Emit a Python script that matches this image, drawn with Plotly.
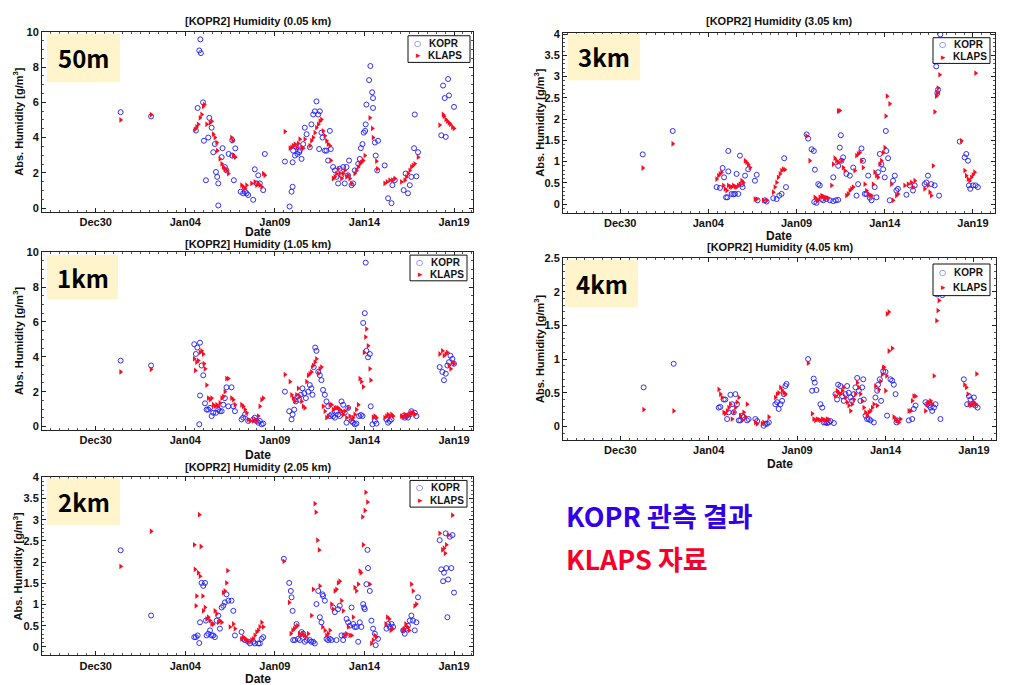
import pandas as pd
import plotly.graph_objects as go

# time = days after 2017-12-30 00:00 ; value = absolute humidity [g/m^3]
BASE = pd.Timestamp("2017-12-30")

kopr_50m = [(1.39,5.44),(3.09,5.2),(5.59,4.4),(5.69,5.68),(5.78,8.94),(5.84,9.57),(5.87,8.79),(5.99,6.0),(6.04,3.82),(6.15,1.58),(6.28,4.0),(6.34,5.12),(6.47,4.56),(6.56,3.17),(6.65,3.63),(6.71,2.05),(6.78,1.77),(6.84,1.4),(6.84,0.15),(7.03,2.89),(7.08,3.4),(7.21,2.33),(7.30,2.14),(7.42,3.07),(7.62,2.98),(7.71,1.58),(7.79,3.39),(7.62,3.85),(8.09,0.93),(8.23,0.84),(8.33,0.93),(8.42,0.84),(8.51,0.74),(8.79,0.47),(8.88,2.2),(8.98,1.4),(9.07,1.86),(9.16,1.4),(9.35,1.02),(9.44,3.07),(10.56,2.64),(10.82,0.09),(10.93,0.93),(10.99,1.21),(10.99,2.6),(11.02,3.26),(11.12,2.98),(11.21,3.45),(11.26,3.07),(11.36,3.17),(11.39,3.26),(11.49,2.79),(11.58,3.63),(11.67,4.56),(11.77,4.19),(11.95,3.45),(12.04,4.75),(12.14,5.31),(12.23,5.49),(12.32,6.05),(12.42,5.31),(12.51,5.49),(12.47,3.35),(12.60,4.28),(12.66,4.0),(12.79,3.26),(12.88,3.26),(12.97,2.7),(13.07,4.38),(13.12,3.35),(13.25,2.33),(13.35,2.14),(13.44,1.77),(13.53,1.4),(13.62,2.23),(13.72,1.86),(13.81,2.33),(13.90,1.4),(14.00,2.33),(14.09,1.86),(14.14,2.7),(14.28,1.3),(14.37,1.4),(14.46,2.14),(14.65,2.51),(14.74,2.79),(14.80,3.4),(14.89,3.63),(14.96,4.28),(15.04,4.38),(15.07,4.75),(15.11,5.87),(15.26,7.26),(15.33,8.06),(15.43,6.57),(15.48,6.24),(15.48,5.68),(15.58,3.72),(15.63,2.98),(15.71,2.14),(15.76,3.82),(16.13,2.42),(16.32,0.56),(16.51,0.28),(16.56,1.3),(16.69,1.58),(17.19,1.02),(17.30,1.96),(17.43,0.84),(17.53,1.3),(17.62,1.77),(17.77,3.4),(17.81,5.31),(17.90,1.8),(17.99,3.17),(19.29,4.13),(19.39,6.95),(19.48,6.24),(19.54,4.04),(19.67,7.32),(19.72,6.39),(20.0,5.74)]
klaps_50m = [(1.39,5.0),(3.09,5.3),(5.54,4.47),(5.63,4.6),(5.72,4.75),(5.82,5.12),(5.91,5.31),(6.0,5.77),(6.06,5.87),(6.19,4.75),(6.38,4.84),(6.47,4.93),(6.56,4.19),(6.65,4.0),(6.75,3.72),(6.78,3.26),(6.93,2.79),(7.03,2.51),(7.12,2.33),(7.21,2.23),(7.30,2.14),(7.40,1.96),(7.58,4.0),(7.64,3.82),(7.68,2.98),(7.79,2.89),(8.14,1.3),(8.23,1.21),(8.33,1.12),(8.42,1.3),(8.70,1.4),(8.88,1.49),(8.98,1.3),(9.07,1.4),(9.16,1.3),(9.26,1.21),(9.35,1.96),(9.44,1.86),(10.56,4.34),(10.84,3.4),(10.93,3.45),(11.02,3.54),(11.12,3.63),(11.21,3.45),(11.30,3.67),(11.39,3.91),(11.49,3.45),(11.58,3.4),(11.67,3.91),(11.95,3.54),(12.04,3.82),(12.14,4.0),(12.23,4.28),(12.32,4.56),(12.42,4.75),(12.51,4.93),(12.60,5.03),(12.69,4.38),(12.79,4.1),(12.88,3.82),(12.97,3.63),(13.07,3.54),(13.12,2.7),(13.25,1.68),(13.35,1.77),(13.44,1.96),(13.53,2.23),(13.62,1.96),(13.72,1.68),(13.81,1.96),(13.90,2.14),(14.00,1.77),(14.09,1.86),(14.18,1.68),(14.28,1.4),(14.46,1.96),(14.55,2.14),(14.65,2.33),(14.74,2.51),(14.83,2.6),(14.93,2.7),(15.02,2.98),(15.30,5.12),(15.44,4.52),(15.48,4.0),(15.67,2.66),(15.72,2.23),(16.13,1.4),(16.26,1.49),(16.41,1.58),(16.56,1.58),(16.69,1.68),(17.06,1.49),(17.25,1.58),(17.34,1.77),(17.43,1.96),(17.53,2.14),(17.62,2.33),(17.71,2.42),(17.81,2.51),(17.99,2.89),(19.20,4.71),(19.39,5.31),(19.44,5.21),(19.54,5.03),(19.63,4.93),(19.72,4.84),(19.80,4.75),(19.91,4.6),(20.0,4.52)]

kopr_1km = [(1.39,3.78),(3.09,3.5),(5.50,4.72),(5.59,4.16),(5.67,4.53),(5.78,0.13),(5.82,4.81),(5.82,1.78),(5.91,3.5),(6.0,2.94),(6.10,1.33),(6.19,0.97),(6.28,0.97),(6.38,1.07),(6.47,0.6),(6.56,0.79),(6.71,0.79),(6.84,0.97),(6.93,0.88),(7.03,0.88),(7.12,1.25),(7.21,1.63),(7.30,2.25),(7.40,1.16),(7.58,2.25),(7.68,1.16),(7.77,0.88),(8.14,0.41),(8.23,0.51),(8.33,0.69),(8.51,0.32),(8.79,0.41),(8.88,0.51),(8.98,0.32),(9.07,0.22),(9.16,0.32),(9.26,0.13),(9.35,0.17),(10.56,2.0),(10.80,0.88),(10.93,0.41),(10.99,0.69),(11.08,0.97),(11.17,1.44),(11.26,1.72),(11.36,1.54),(11.45,1.82),(11.54,2.19),(11.64,1.91),(11.73,1.63),(11.86,2.0),(11.95,2.38),(12.04,2.19),(12.10,1.82),(12.17,3.41),(12.25,4.53),(12.32,4.34),(12.42,3.13),(12.51,2.94),(12.60,2.66),(12.69,2.1),(12.79,1.82),(12.88,1.44),(12.97,1.16),(13.07,0.6),(13.16,0.69),(13.25,0.6),(13.35,0.51),(13.44,0.88),(13.53,0.69),(13.62,0.6),(13.72,1.44),(13.81,1.25),(13.90,0.79),(14.00,0.22),(14.09,1.07),(14.28,0.32),(14.37,0.22),(14.46,0.13),(14.55,0.17),(14.70,0.6),(14.80,0.66),(14.89,0.6),(14.93,5.94),(15.02,6.5),(15.07,9.4),(15.11,4.34),(15.20,3.97),(15.30,4.16),(15.35,1.16),(15.45,0.13),(15.58,0.32),(15.67,0.17),(16.23,0.41),(16.32,0.22),(16.41,0.32),(16.51,0.41),(17.16,0.6),(17.25,0.51),(17.34,0.6),(17.43,0.51),(17.53,0.69),(17.62,0.88),(17.81,0.79),(17.90,0.6),(19.20,3.41),(19.35,3.13),(19.44,2.66),(19.54,3.03),(19.63,3.5),(19.72,3.69),(19.80,4.06),(19.91,3.88),(20.0,3.6)]
klaps_1km = [(1.39,3.13),(3.09,3.28),(5.50,3.88),(5.56,3.22),(5.63,3.69),(5.72,3.78),(5.82,4.25),(5.91,4.34),(6.0,4.16),(6.04,3.6),(6.10,3.31),(6.19,2.38),(6.28,1.63),(6.38,1.54),(6.47,1.63),(6.56,1.25),(6.65,1.16),(6.75,1.25),(6.84,1.16),(6.93,1.35),(7.03,1.63),(7.12,1.72),(7.21,2.0),(7.30,2.75),(7.40,2.75),(7.58,1.63),(7.68,1.54),(7.77,1.25),(8.14,1.25),(8.23,1.16),(8.33,0.97),(8.42,0.79),(8.51,0.41),(8.61,0.32),(8.79,0.32),(8.88,0.41),(8.98,0.32),(9.07,0.6),(9.16,1.16),(9.26,1.54),(9.35,1.63),(10.56,2.98),(10.84,2.57),(10.93,1.82),(11.02,1.63),(11.12,1.44),(11.21,1.82),(11.30,2.19),(11.39,1.72),(11.49,1.44),(11.58,1.16),(11.67,1.07),(11.77,2.57),(11.86,2.94),(11.95,3.03),(12.04,3.13),(12.14,3.5),(12.23,3.69),(12.32,3.88),(12.42,3.03),(12.51,3.31),(12.60,3.41),(12.69,1.16),(12.79,0.88),(12.88,0.51),(12.97,0.6),(13.07,1.25),(13.16,1.25),(13.25,0.97),(13.35,1.07),(13.44,1.07),(13.53,1.07),(13.62,0.97),(13.72,0.88),(13.81,0.69),(13.90,0.88),(14.00,0.51),(14.09,1.07),(14.18,0.6),(14.28,0.41),(14.37,0.51),(14.46,0.69),(14.55,0.97),(14.65,1.25),(14.74,2.75),(14.83,2.57),(14.93,2.28),(14.98,4.25),(15.06,5.13),(15.11,5.6),(15.20,4.63),(15.30,3.31),(15.35,2.66),(15.48,0.54),(15.58,0.6),(15.67,0.51),(16.13,0.51),(16.23,0.6),(16.32,0.69),(16.41,0.6),(16.51,0.69),(16.60,0.6),(17.06,0.6),(17.16,0.54),(17.25,0.69),(17.34,0.6),(17.43,0.66),(17.53,0.69),(17.62,0.79),(17.71,0.79),(17.81,0.69),(19.20,4.16),(19.35,4.34),(19.44,4.06),(19.54,4.16),(19.63,4.25),(19.72,3.5),(19.81,3.31),(19.91,3.69),(20.0,3.6)]

kopr_2km = [(1.39,2.28),(3.09,0.74),(5.50,0.23),(5.59,0.23),(5.69,0.27),(5.78,0.09),(5.82,0.58),(5.91,1.51),(6.0,1.44),(6.10,1.51),(6.15,0.62),(6.19,0.27),(6.28,0.31),(6.38,0.39),(6.47,0.27),(6.56,0.27),(6.65,0.23),(6.75,0.62),(6.84,0.74),(6.93,0.43),(7.03,0.93),(7.12,0.97),(7.21,1.05),(7.30,1.24),(7.40,1.09),(7.58,1.09),(7.68,0.85),(7.77,0.27),(8.14,0.35),(8.23,0.19),(8.33,0.16),(8.51,0.12),(8.61,0.08),(8.79,0.12),(8.88,0.08),(9.07,0.08),(9.16,0.08),(9.26,0.19),(9.35,0.23),(10.50,2.08),(10.80,1.51),(10.89,1.32),(10.93,1.17),(10.99,0.85),(11.02,0.16),(11.12,0.16),(11.21,0.54),(11.30,0.19),(11.39,0.16),(11.49,0.35),(11.58,0.31),(11.67,0.12),(11.77,0.16),(11.95,0.16),(12.04,0.12),(12.14,0.12),(12.23,0.08),(12.32,1.01),(12.42,1.32),(12.51,0.7),(12.60,0.58),(12.66,1.24),(12.69,1.2),(12.79,1.09),(12.88,0.19),(12.97,0.16),(13.07,0.19),(13.16,0.16),(13.25,0.93),(13.35,0.82),(13.44,0.16),(13.53,0.89),(13.62,0.97),(13.72,0.27),(13.81,0.16),(13.90,0.27),(14.00,0.66),(14.09,0.58),(14.18,0.5),(14.28,0.93),(14.37,0.54),(14.46,0.47),(14.55,0.47),(14.65,0.12),(14.74,0.58),(14.83,0.47),(14.93,1.01),(14.98,0.93),(15.02,0.89),(15.11,1.48),(15.17,2.29),(15.20,1.86),(15.30,1.32),(15.39,0.62),(15.48,0.43),(15.58,0.31),(15.63,0.04),(15.76,0.19),(16.23,0.43),(16.32,0.54),(16.41,0.47),(16.51,0.54),(16.60,0.47),(17.16,0.39),(17.25,0.31),(17.34,0.43),(17.43,0.5),(17.53,0.62),(17.62,0.74),(17.71,0.62),(17.81,0.39),(17.90,0.58),(17.99,1.17),(19.20,2.52),(19.29,1.83),(19.39,1.55),(19.44,1.75),(19.54,2.68),(19.57,1.86),(19.63,0.7),(19.67,1.59),(19.76,2.6),(19.85,1.86),(19.91,2.64),(20.0,1.28)]
klaps_2km = [(1.39,1.9),(3.09,2.73),(5.50,2.41),(5.54,1.83),(5.59,0.97),(5.63,1.2),(5.72,1.75),(5.78,3.12),(5.82,1.67),(5.87,2.37),(5.97,1.2),(6.0,0.85),(6.10,0.93),(6.19,0.66),(6.28,0.7),(6.38,0.62),(6.47,0.54),(6.56,0.54),(6.65,0.85),(6.75,0.78),(6.84,0.58),(6.93,0.62),(7.03,0.58),(7.12,1.28),(7.21,1.32),(7.30,1.51),(7.36,1.8),(7.49,0.47),(7.68,0.54),(7.77,0.43),(8.14,0.19),(8.23,0.23),(8.33,0.19),(8.42,0.16),(8.51,0.12),(8.70,0.16),(8.79,0.19),(8.88,0.27),(8.98,0.35),(9.07,0.39),(9.16,0.47),(9.26,0.58),(9.35,0.47),(10.50,2.02),(10.80,1.05),(10.89,0.31),(10.99,0.39),(11.08,0.43),(11.17,0.47),(11.26,0.5),(11.36,0.31),(11.45,0.27),(11.54,0.31),(11.64,0.27),(11.73,0.23),(11.86,0.31),(12.04,0.74),(12.14,1.36),(12.23,3.38),(12.29,3.18),(12.38,2.52),(12.47,2.29),(12.51,1.44),(12.66,0.47),(12.79,0.39),(12.88,0.27),(12.97,0.31),(13.07,0.39),(13.16,1.01),(13.25,0.89),(13.35,1.32),(13.44,1.36),(13.53,1.51),(13.62,1.55),(13.72,1.09),(13.81,0.85),(13.90,0.27),(14.00,0.31),(14.09,0.47),(14.18,0.27),(14.28,0.27),(14.37,0.7),(14.46,1.4),(14.55,1.32),(14.65,1.48),(14.74,1.79),(14.80,1.75),(14.89,3.07),(14.93,2.41),(15.02,3.22),(15.07,3.65),(15.17,3.42),(15.30,1.48),(15.39,0.08),(15.48,0.16),(15.58,0.27),(15.67,0.23),(16.19,0.54),(16.28,0.7),(16.38,0.66),(16.47,0.39),(16.56,0.43),(17.12,0.39),(17.21,0.43),(17.30,0.54),(17.40,0.47),(17.49,0.39),(17.62,1.48),(17.71,1.32),(17.81,0.97),(17.90,1.01),(19.20,2.68),(19.35,2.29),(19.44,2.33),(19.50,2.21),(19.57,2.41),(19.67,2.64),(19.91,3.11)]

kopr_3km = [(1.28,1.17),(2.98,1.72),(5.47,0.4),(5.66,0.38),(5.81,0.85),(5.89,0.63),(6.0,0.16),(6.08,0.16),(6.13,0.77),(6.13,1.25),(6.32,0.24),(6.42,0.23),(6.51,0.24),(6.6,0.71),(6.7,0.24),(6.79,1.14),(6.89,0.47),(6.94,0.4),(7.08,0.67),(7.26,0.82),(7.64,0.55),(7.74,0.69),(7.79,0.09),(8.21,0.09),(8.3,0.06),(8.68,0.14),(8.87,0.12),(9.02,0.2),(9.15,0.24),(9.3,1.08),(9.4,0.4),(10.57,1.64),(10.66,1.54),(10.85,1.29),(10.98,1.25),(11.04,0.81),(11.0,0.05),(11.13,0.03),(11.23,0.47),(11.32,0.44),(11.42,0.12),(11.51,0.09),(11.7,0.12),(11.89,0.09),(12.08,0.07),(12.23,0.09),(12.36,0.1),(12.08,0.63),(12.36,0.9),(12.45,1.33),(12.51,1.62),(12.55,1.02),(12.64,1.1),(12.83,0.71),(13.02,0.67),(13.21,0.86),(13.4,0.2),(13.49,0.47),(13.68,1.31),(13.77,1.02),(13.87,0.24),(13.96,0.24),(14.06,0.67),(14.15,0.15),(14.25,0.09),(14.43,0.4),(14.53,0.16),(14.62,0.75),(14.72,1.18),(14.81,0.94),(14.91,0.82),(15.0,0.63),(15.06,1.72),(15.09,1.25),(15.19,1.08),(15.28,0.09),(15.47,0.55),(15.57,0.67),(15.66,0.32),(15.75,0.36),(16.23,0.22),(16.42,0.44),(16.6,0.32),(16.7,0.44),(17.26,0.47),(17.36,0.51),(17.45,0.67),(17.64,0.47),(17.83,0.44),(17.92,3.24),(17.98,2.61),(18.02,2.69),(18.08,0.2),(18.15,3.99),(19.25,1.47),(19.53,1.1),(19.62,1.18),(19.72,1.02),(19.77,0.44),(19.85,0.36),(20.0,0.44),(20.15,0.44),(20.28,0.4)]
klaps_3km = [(1.28,0.85),(2.98,1.42),(5.47,0.59),(5.57,0.67),(5.66,0.71),(5.75,0.75),(5.85,0.44),(5.94,0.36),(6.04,0.32),(6.13,0.44),(6.23,0.41),(6.32,0.4),(6.42,0.44),(6.51,0.41),(6.6,0.4),(6.7,0.44),(6.79,0.47),(6.89,0.55),(6.98,0.51),(7.08,1.02),(7.17,0.98),(7.26,0.93),(7.36,0.86),(7.64,0.12),(7.74,0.12),(8.11,0.09),(8.3,0.09),(8.68,0.28),(8.77,0.4),(8.87,0.51),(8.96,0.63),(9.06,0.71),(9.15,0.79),(9.25,0.82),(9.34,0.81),(10.57,1.6),(10.75,1.02),(11.04,0.16),(11.13,0.12),(11.23,0.09),(11.32,0.16),(11.42,0.2),(11.51,0.18),(11.6,0.16),(11.7,0.15),(11.79,0.14),(11.98,0.44),(12.08,0.94),(12.17,1.08),(12.26,1.02),(12.36,2.19),(12.45,2.2),(12.36,0.98),(12.55,1.02),(12.64,0.86),(12.74,0.79),(12.83,0.2),(12.92,0.24),(13.02,0.32),(13.11,0.36),(13.21,0.4),(13.3,0.79),(13.4,1.14),(13.49,1.18),(13.58,1.21),(13.68,1.02),(13.77,0.86),(13.87,0.47),(13.96,0.32),(14.06,0.24),(14.15,0.2),(14.25,0.2),(14.34,0.47),(14.43,0.75),(14.53,0.67),(14.62,0.63),(14.72,0.94),(14.81,1.02),(14.91,1.21),(15.0,1.33),(15.06,2.07),(15.13,2.54),(15.28,2.36),(15.38,0.47),(15.47,0.09),(15.66,0.2),(15.75,0.24),(16.13,0.44),(16.32,0.47),(16.51,0.51),(16.6,0.4),(16.7,0.55),(17.26,0.36),(17.45,0.44),(17.55,0.28),(17.64,0.2),(17.74,0.9),(17.83,2.17),(17.92,2.54),(17.98,2.61),(18.02,2.73),(18.11,3.04),(19.34,1.49),(19.53,0.79),(19.62,0.67),(19.72,0.59),(19.81,0.55),(19.91,0.63),(20.0,0.69),(20.09,0.75),(20.15,3.08)]

kopr_4km = [(1.32,0.58),(3.02,0.93),(5.57,0.28),(5.66,0.29),(5.85,0.4),(5.94,0.4),(6.04,0.11),(6.13,0.21),(6.23,0.47),(6.32,0.33),(6.42,0.21),(6.51,0.48),(6.6,0.33),(6.7,0.09),(6.79,0.09),(6.89,0.16),(6.98,0.14),(7.17,0.09),(7.26,0.11),(7.64,0.11),(7.74,0.08),(8.11,0.01),(8.21,0.04),(8.3,0.04),(8.4,0.06),(8.77,0.33),(8.87,0.36),(8.96,0.26),(9.06,0.33),(9.15,0.38),(9.25,0.48),(9.34,0.6),(9.4,0.63),(10.62,1.0),(10.85,0.53),(10.94,0.71),(11.0,0.65),(11.09,0.54),(11.32,0.33),(11.42,0.28),(11.51,0.06),(11.6,0.06),(11.7,0.05),(11.79,0.06),(11.89,0.08),(12.08,0.05),(12.17,0.48),(12.26,0.4),(12.32,0.62),(12.45,0.6),(12.55,0.45),(12.64,0.38),(12.74,0.48),(12.83,0.6),(12.92,0.5),(13.02,0.43),(13.11,0.38),(13.21,0.48),(13.3,0.58),(13.4,0.72),(13.49,0.53),(13.58,0.38),(13.68,0.58),(13.74,0.7),(13.77,0.4),(13.87,0.16),(13.96,0.11),(14.06,0.11),(14.15,0.09),(14.34,0.06),(14.43,0.43),(14.53,0.53),(14.58,0.62),(14.68,0.7),(14.75,0.38),(14.87,0.82),(15.0,0.81),(15.09,0.16),(15.28,0.7),(15.38,0.68),(15.47,0.62),(15.57,0.48),(15.62,0.06),(15.66,0.09),(16.32,0.09),(16.51,0.11),(16.6,0.26),(16.7,0.31),(17.26,0.36),(17.36,0.33),(17.45,0.31),(17.55,0.28),(17.64,0.23),(17.74,0.28),(17.83,0.33),(17.92,1.96),(18.21,1.95),(18.11,0.11),(19.43,0.7),(19.62,0.33),(19.72,0.45),(19.81,0.4),(19.91,0.33),(20.0,0.43),(20.09,0.31),(20.21,0.28)]
klaps_4km = [(1.32,0.25),(3.02,0.23),(5.57,0.55),(5.66,0.48),(5.75,0.43),(5.85,0.21),(5.94,0.19),(6.04,0.23),(6.13,0.28),(6.23,0.33),(6.32,0.11),(6.42,0.21),(6.51,0.28),(6.6,0.36),(6.7,0.43),(6.79,0.16),(6.89,0.09),(6.98,0.21),(7.08,0.14),(7.17,0.33),(7.64,0.06),(7.74,0.04),(8.02,0.04),(8.11,0.06),(8.4,0.14),(8.77,0.43),(8.87,0.48),(8.96,0.5),(9.06,0.58),(9.15,0.54),(9.25,0.5),(9.34,0.48),(10.62,0.94),(10.85,0.19),(10.94,0.11),(11.04,0.09),(11.13,0.11),(11.23,0.1),(11.32,0.09),(11.42,0.11),(11.51,0.1),(11.6,0.09),(11.7,0.11),(11.79,0.1),(12.17,0.45),(12.26,0.53),(12.36,0.5),(12.45,0.48),(12.55,0.53),(12.64,0.58),(12.74,0.43),(12.83,0.36),(12.92,0.31),(13.02,0.23),(13.11,0.33),(13.21,0.4),(13.3,0.48),(13.4,0.65),(13.49,0.58),(13.58,0.48),(13.68,0.38),(13.77,0.28),(13.87,0.21),(13.96,0.16),(14.06,0.21),(14.15,0.23),(14.25,0.28),(14.34,0.33),(14.43,0.6),(14.53,0.31),(14.62,0.55),(14.72,0.67),(14.81,0.77),(14.87,0.87),(14.91,0.88),(15.0,0.53),(15.06,0.75),(15.09,1.67),(15.19,1.7),(15.19,1.12),(15.38,1.16),(15.47,0.14),(15.57,0.11),(15.66,0.09),(15.75,0.06),(15.85,0.11),(16.32,0.23),(16.42,0.23),(16.51,0.38),(16.6,0.45),(16.7,0.45),(17.26,0.23),(17.36,0.33),(17.45,0.36),(17.55,0.38),(17.64,0.33),(17.74,0.75),(17.89,1.57),(17.96,1.72),(18.02,1.87),(19.47,0.62),(19.57,0.58),(19.66,0.48),(19.72,0.33),(19.81,0.31),(19.91,0.33),(20.0,0.36),(20.09,0.33),(20.15,0.78)]

tick_days = [0, 5, 10, 15, 20]
tick_labels = ["Dec30", "Jan04", "Jan09", "Jan14", "Jan19"]
series_names = ["KOPR", "KLAPS"]
panel_titles = ["[KOPR2] Humidity (0.05 km)", "[KOPR2] Humidity (3.05 km)", "[KOPR2] Humidity (1.05 km)",
                "[KOPR2] Humidity (4.05 km)", "[KOPR2] Humidity (2.05 km)"]
panel_tags = ["50m", "3km", "1km", "4km", "2km"]
note_kopr = "KOPR 관측 결과"
note_klaps = "KLAPS 자료"

# page coordinates (px); the page body has an 8px margin, so the figure is offset by it
OFF = 8
FW, FH = 1022 - OFF, 685 - OFF
def PX(x): return (x - OFF) / FW
def PY(y): return 1 - (y - OFF) / FH
def to_dt(d): return BASE + pd.to_timedelta(d, unit="D")

# (kopr, klaps, plot box px, y range, y dtick, y minor, x range days, legend box px, tag box px, Date y, title y)
panels = [
    (kopr_50m, klaps_50m, (42, 473, 26, 208), [-0.2, 10], 2, 0.5, [-3.0, 21.06], (408, 470, 30, 57), (47, 120, 28, 77), 229, 15),
    (kopr_3km, klaps_3km, (563, 995, 27, 209), [-0.2, 4.03], 0.5, 0.1, [-3.24, 21.25], (933, 990, 32, 58), (568, 640, 28, 75), 233, 15),
    (kopr_1km, klaps_1km, (42, 473, 249, 429), [-0.2, 10], 2, 0.5, [-3.0, 21.06], (410, 467, 252, 278), (47, 118, 252, 297), 454, 241),
    (kopr_4km, klaps_4km, (563, 996, 255, 439), [-0.2, 2.5], 0.5, 0.1, [-3.24, 21.25], (933, 990, 261, 293), (565, 638, 257, 305), 463, 244),
    (kopr_2km, klaps_2km, (42, 473, 477, 657), [-0.2, 4], 0.5, 0.1, [-3.0, 21.06], (410, 467, 480, 507), (47, 120, 478, 525), 681, 466),
]

BLUE = "#1a1aff"
RED = "#ff0a1e"
tick_font = dict(family="Liberation Sans", size=11, color="#111", weight="bold")
leg_font = dict(family="Liberation Sans", size=10, color="#111", weight="bold")

fig = go.Figure()
layout = dict(width=FW, height=FH, margin=dict(l=0, r=0, t=0, b=0),
              paper_bgcolor="white", plot_bgcolor="white", showlegend=False)
annotations = []
shapes = []

def ann(text, x, y, font, **kw):
    d = dict(text=text, x=PX(x), y=PY(y), xref="paper", yref="paper", showarrow=False,
             xanchor="center", yanchor="middle", font=font)
    d.update(kw)
    annotations.append(d)

for i, (kd, ld, box, yr, ydt, ymin, xr, leg, tag, datey, titley) in enumerate(panels):
    n = i + 1
    sx = "" if n == 1 else str(n)
    xa, ya = "x" + sx, "y" + sx
    x0, x1, y0, y1 = box
    fig.add_trace(go.Scatter(
        x=[to_dt(t) for t, v in kd], y=[v for t, v in kd], mode="markers", name=series_names[0],
        xaxis=xa, yaxis=ya,
        marker=dict(symbol="circle-open", size=5, color=BLUE, line=dict(width=0.9, color=BLUE))))
    fig.add_trace(go.Scatter(
        x=[to_dt(t) for t, v in ld], y=[v for t, v in ld], mode="markers", name=series_names[1],
        xaxis=xa, yaxis=ya,
        marker=dict(symbol="triangle-right", size=5, color=RED, line=dict(width=0))))
    layout["xaxis" + sx] = dict(
        domain=[PX(x0), PX(x1)], anchor=ya, range=[to_dt(xr[0]), to_dt(xr[1])],
        tickvals=[to_dt(d) for d in tick_days], ticktext=tick_labels,
        showgrid=False, zeroline=False, showline=True, linecolor="#222", linewidth=1,
        mirror="ticks", ticks="inside", ticklen=4, tickcolor="#222", tickfont=tick_font,
        minor=dict(ticks="inside", dtick=12 * 3600 * 1000, ticklen=2, tickcolor="#555", showgrid=False))
    layout["yaxis" + sx] = dict(
        domain=[PY(y1), PY(y0)], anchor=xa, range=yr, dtick=ydt, tick0=0,
        showgrid=False, zeroline=False, showline=True, linecolor="#222", linewidth=1,
        mirror="ticks", ticks="inside", ticklen=4, tickcolor="#222", tickfont=tick_font,
        minor=dict(ticks="inside", dtick=ymin, ticklen=2, tickcolor="#555", showgrid=False))
    # legend box (drawn as a framed key)
    lx0, lx1, ly0, ly1 = leg
    shapes.append(dict(type="rect", xref="paper", yref="paper", x0=PX(lx0), x1=PX(lx1), y0=PY(ly1), y1=PY(ly0),
                       fillcolor="white", line=dict(color="#111", width=1), layer="above"))
    r1 = ly0 + (ly1 - ly0) * 0.28
    r2 = ly0 + (ly1 - ly0) * 0.74
    ann("○", lx0 + 9, r1, dict(family="DejaVu Sans", size=8, color=BLUE))
    ann("▸", lx0 + 10, r2, dict(family="DejaVu Sans", size=9, color=RED))
    ann(series_names[0], lx0 + 19, r1, leg_font, xanchor="left")
    ann(series_names[1], lx0 + 18, r2, leg_font, xanchor="left")
    # title, axis titles
    ann(panel_titles[i], (x0 + x1) / 2, titley, dict(family="Liberation Sans", size=11, color="#111", weight="bold"))
    ann("Abs. Humidity [g/m<sup>3</sup>]", x0 - 24, (y0 + y1) / 2,
        dict(family="Liberation Sans", size=11, color="#111", weight="bold"), textangle=-90)
    ann("Date", (x0 + x1) / 2, datey, dict(family="Liberation Sans", size=12, color="#111", weight="bold"))
    # yellow altitude tag
    tx0, tx1, ty0, ty1 = tag
    shapes.append(dict(type="rect", xref="paper", yref="paper", x0=PX(tx0), x1=PX(tx1), y0=PY(ty1), y1=PY(ty0),
                       fillcolor="#fff4cc", line=dict(width=0), layer="above"))
    ann(panel_tags[i], (tx0 + tx1) / 2, (ty0 + ty1) / 2,
        dict(family="Noto Sans CJK KR", size=24, color="black", weight="bold"))

ann(note_kopr, 564, 516, dict(family="Noto Sans CJK KR", size=27, color="#3200e6", weight="bold"), xanchor="left")
ann(note_klaps, 564, 559, dict(family="Noto Sans CJK KR", size=27, color="#f5002a", weight="bold"), xanchor="left")

layout["annotations"] = annotations
layout["shapes"] = shapes
fig.update_layout(**layout)
fig.write_html("out.html")
